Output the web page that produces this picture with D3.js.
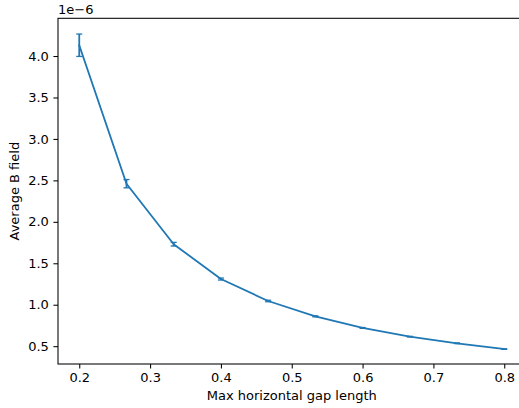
<!DOCTYPE html>
<html>
<head>
<meta charset="utf-8">
<script src="https://cdn.jsdelivr.net/npm/d3@7"></script>
<style>
  html, body { margin: 0; padding: 0; background: #fff; }
  svg { display: block; font-family: "DejaVu Sans", sans-serif; }
</style>
</head>
<body>
<svg id="chart" width="519" height="408"></svg>
<script>
// Max horizontal gap length (k/15 for k = 3..12)
const gapLength = [3, 4, 5, 6, 7, 8, 9, 10, 11, 12].map(k => k / 15);
// Average B field, in units of 1e-6
const avgField = [4.13, 2.46, 1.73, 1.31, 1.045, 0.86, 0.72, 0.615, 0.535, 0.465];
// Standard error of each mean, same units
const fieldErr = [0.135, 0.05, 0.022, 0.012, 0.009, 0.006, 0.005, 0.004, 0.004, 0.003];

const xTicks = [0.2, 0.3, 0.4, 0.5, 0.6, 0.7, 0.8];
const yTicks = [0.5, 1.0, 1.5, 2.0, 2.5, 3.0, 3.5, 4.0];

(function () {
  const svg = d3.select("#chart");
  const m = { left: 58, right: 525.5, top: 18.3, bottom: 364 };
  const color = "#1f77b4";

  const x = d3.scaleLinear().domain([0.17, 0.83]).range([m.left, m.right]);
  const y = d3.scaleLinear().domain([0.285, 4.455]).range([m.bottom, m.top]);

  // Axes frame
  svg.append("rect")
    .attr("x", m.left).attr("y", m.top)
    .attr("width", m.right - m.left).attr("height", m.bottom - m.top)
    .attr("fill", "none").attr("stroke", "#000").attr("stroke-width", 1.05);

  // X axis
  const xAxis = d3.axisBottom(x).tickValues(xTicks).tickFormat(d3.format(".1f"))
    .tickSizeInner(4.6).tickSizeOuter(0).tickPadding(4.6);
  const gx = svg.append("g").attr("transform", `translate(0,${m.bottom})`).call(xAxis);
  gx.select(".domain").remove();
  gx.selectAll(".tick line").attr("stroke", "#000").attr("stroke-width", 1.05);
  gx.selectAll(".tick text").attr("fill", "#000").attr("font-size", 13)
    .attr("font-family", "DejaVu Sans, sans-serif");

  // Y axis
  const yAxis = d3.axisLeft(y).tickValues(yTicks).tickFormat(d3.format(".1f"))
    .tickSizeInner(4.6).tickSizeOuter(0).tickPadding(4.6);
  const gy = svg.append("g").attr("transform", `translate(${m.left},0)`).call(yAxis);
  gy.select(".domain").remove();
  gy.selectAll(".tick line").attr("stroke", "#000").attr("stroke-width", 1.05);
  gy.selectAll(".tick text").attr("fill", "#000").attr("font-size", 13)
    .attr("font-family", "DejaVu Sans, sans-serif");

  // Offset text for the y scale
  svg.append("text")
    .attr("x", m.left).attr("y", 14)
    .attr("font-size", 13).attr("fill", "#000")
    .text("1e\u22126");

  // Axis labels
  svg.append("text")
    .attr("x", (m.left + m.right) / 2).attr("y", 400)
    .attr("text-anchor", "middle").attr("font-size", 13).attr("fill", "#000")
    .text("Max horizontal gap length");

  svg.append("text")
    .attr("transform", `translate(19,${(m.top + m.bottom) / 2}) rotate(-90)`)
    .attr("text-anchor", "middle").attr("font-size", 13).attr("fill", "#000")
    .text("Average B field");

  // Data
  const pts = gapLength.map((g, i) => ({ g, v: avgField[i], e: fieldErr[i] }));
  const plot = svg.append("g");

  // Error bars: vertical whiskers plus thinner caps
  const eb = plot.append("g").attr("stroke", color).attr("fill", "none");
  const cap = 3;
  pts.forEach(p => {
    const cx = x(p.g);
    eb.append("line").attr("stroke-width", 1.8)
      .attr("x1", cx).attr("x2", cx).attr("y1", y(p.v - p.e)).attr("y2", y(p.v + p.e));
    [p.v - p.e, p.v + p.e].forEach(v => {
      eb.append("line").attr("stroke-width", 1.3)
        .attr("x1", cx - cap).attr("x2", cx + cap).attr("y1", y(v)).attr("y2", y(v));
    });
  });

  // Mean line
  plot.append("path")
    .datum(pts)
    .attr("fill", "none")
    .attr("stroke", color)
    .attr("stroke-width", 1.8)
    .attr("stroke-linejoin", "round")
    .attr("stroke-linecap", "square")
    .attr("d", d3.line().x(d => x(d.g)).y(d => y(d.v)));
})();
</script>
</body>
</html>
